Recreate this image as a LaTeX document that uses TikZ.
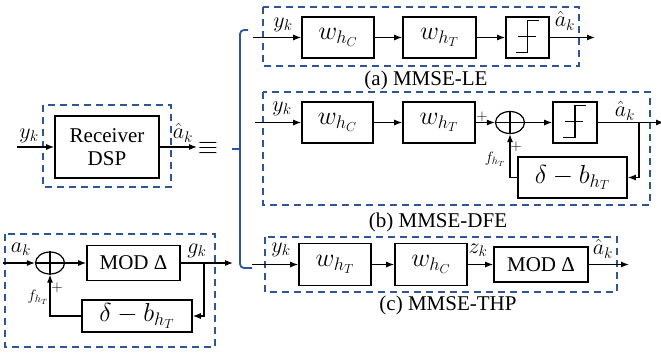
\RequirePackage{fix-cm}
\documentclass[tikz,border=0pt]{standalone}
\usepackage{fontspec}
\setmainfont{Liberation Serif}
\usetikzlibrary{arrows.meta,shapes.geometric}
\definecolor{dblue}{RGB}{47,85,151}
\begin{document}
\begin{tikzpicture}[x=1pt,y=-1pt,
  blk/.style={draw, line width=1.6pt, inner sep=0pt, minimum height=41pt, font=\fontsize{26}{28}\selectfont},
  txtblk/.style={blk, font=\fontsize{21}{23}\selectfont},
  sumc/.style={draw, ellipse, minimum width=29pt, minimum height=22pt, inner sep=0pt, line width=1.2pt},
  arr/.style={line width=1.2pt, -{Latex[length=8pt,width=6pt]}},
  ln/.style={line width=1.2pt},
  dbox/.style={draw=dblue, line width=1.6pt, dash pattern=on 7pt off 5pt},
  lbl/.style={inner sep=0pt, font=\fontsize{22}{24}\selectfont},
  slbl/.style={inner sep=0pt, font=\fontsize{15}{17}\selectfont},
  captxt/.style={inner sep=0pt, font=\fontsize{21}{23}\selectfont},
  dec/.pic={\draw[line width=1.1pt] (-12,15) -- (0,15) -- (0,-17) -- (11,-17);
            \draw[line width=1.1pt] (-10,-1) -- (8,-1);}
]
\useasboundingbox (0,0) rectangle (661,354);

% ---------- Receiver DSP ----------
\draw[dbox] (43,105) rectangle (171,187);
\node[txtblk, minimum width=104pt, minimum height=62pt, align=center] (rx) at (107,147) {Receiver\\DSP};
\coordinate (rxin) at (17,147);
\coordinate (rxout) at (197,147);
\draw[arr] (rxin) -- (rx.west);
\draw[arr] (rx.east) -- (rxout);
\node[lbl] (rxy) at (29,136) {$y_k$};
\node[lbl] (rxa) at (183,133) {$\hat{a}_k$};
\node[inner sep=0pt, font=\fontsize{26}{28}\selectfont] (eq) at (208,148) {$\equiv$};

% ---------- brace ----------
\draw[dblue, line width=1.8pt, rounded corners=4pt] (248,30) -| (240,268) -- (252,268);
\draw[dblue, line width=1.8pt] (232,149) -- (240,149);

% ---------- bottom-left precoder ----------
\draw[dbox] (5,234) rectangle (215,347);
\node[sumc] (sL) at (50,263) {};
\draw[ln] (sL.north) -- (sL.south) (sL.west) -- (sL.east);
\node[txtblk, minimum width=93pt, minimum height=35pt] (modL) at (133.5,263) {MOD Δ};
\node[blk, minimum width=110pt, minimum height=32pt] (dlL) at (137,316) {$\delta-b_{h_T}$};
\coordinate (inL) at (3,263);
\coordinate (outL) at (233,263);
\coordinate (tapL) at (204,263);
\draw[arr] (inL) -- (sL.west);
\draw[arr] (sL.east) -- (modL.west);
\draw[arr] (modL.east) -- (outL);
\draw[arr] (tapL) |- (dlL.east);
\draw[arr] (dlL.west) -| (sL.south);
\node[lbl] (aL) at (21,249) {$a_k$};
\node[lbl] (gL) at (197,251) {$g_k$};
\node[slbl] (fL) at (38,297) {$f_{h_T}$};
\node[slbl] (pL) at (57,288) {$+$};

% ---------- (a) MMSE-LE ----------
\draw[dbox] (263,7) rectangle (579,66);
\node[blk, minimum width=72pt] (a1) at (338,37.5) {$w_{h_C}$};
\node[blk, minimum width=73pt] (a2) at (439.5,37.5) {$w_{h_T}$};
\node[blk, minimum width=43pt] (a3) at (527.5,37.5) {};
\pic at (a3.center) {dec};
\coordinate (ain) at (253,37.5);
\coordinate (aout) at (595,37.5);
\draw[arr] (ain) -- (a1.west);
\draw[arr] (a1.east) -- (a2.west);
\draw[arr] (a2.east) -- (a3.west);
\draw[arr] (a3.east) -- (aout);
\node[lbl] (ay) at (283,25) {$y_k$};
\node[lbl] (aa) at (565,21) {$\hat{a}_k$};
\node[captxt] (acap) at (426,80) {(a) MMSE-LE};

% ---------- (b) MMSE-DFE ----------
\draw[dbox] (263,92) rectangle (650,205);
\node[blk, minimum width=71pt] (b1) at (337.5,122.5) {$w_{h_C}$};
\node[blk, minimum width=72pt] (b2) at (439,122.5) {$w_{h_T}$};
\node[sumc] (sB) at (510,122.5) {};
\draw[ln] (sB.north) -- (sB.south) (sB.west) -- (sB.east);
\node[blk, minimum width=44pt] (b3) at (575,122.5) {};
\pic at (b3.center) {dec};
\node[blk, minimum width=109pt] (b4) at (572.5,177.5) {$\delta-b_{h_T}$};
\coordinate (bin) at (255,122.5);
\coordinate (bout) at (664,122.5);
\coordinate (tapB) at (639,122.5);
\draw[arr] (bin) -- (b1.west);
\draw[arr] (b1.east) -- (b2.west);
\draw[arr] (b2.east) -- (sB.west);
\draw[arr] (sB.east) -- (b3.west);
\draw[arr] (b3.east) -- (bout);
\draw[arr] (tapB) |- (b4.east);
\draw[arr] (b4.west) -| (sB.south);
\node[lbl] (by) at (282,109) {$y_k$};
\node[lbl] (ba) at (625,111) {$\hat{a}_k$};
\node[slbl] (bp1) at (482,117) {$+$};
\node[slbl] (bp2) at (516,147) {$+$};
\node[slbl] (bf) at (495,159) {$f_{h_T}$};
\node[captxt] (bcap) at (438,222) {(b) MMSE-DFE};

% ---------- (c) MMSE-THP ----------
\draw[dbox] (265,237) rectangle (617,292);
\node[blk, minimum width=72pt, minimum height=42pt] (c1) at (335,264.5) {$w_{h_T}$};
\node[blk, minimum width=72pt, minimum height=42pt] (c2) at (431,264.5) {$w_{h_C}$};
\node[txtblk, minimum width=94pt, minimum height=35pt] (c3) at (541,264.5) {MOD Δ};
\coordinate (cin) at (252,264.5);
\coordinate (cout) at (629,264.5);
\draw[arr] (cin) -- (c1.west);
\draw[arr] (c1.east) -- (c2.west);
\draw[arr] (c2.east) -- (c3.west);
\draw[arr] (c3.east) -- (cout);
\node[lbl] (cy) at (281,250) {$y_k$};
\node[lbl] (cz) at (478,250) {$z_k$};
\node[lbl] (ca) at (603,249) {$\hat{a}_k$};
\node[captxt] (ccap) at (448,305) {(c) MMSE-THP};
\end{tikzpicture}
\end{document}
